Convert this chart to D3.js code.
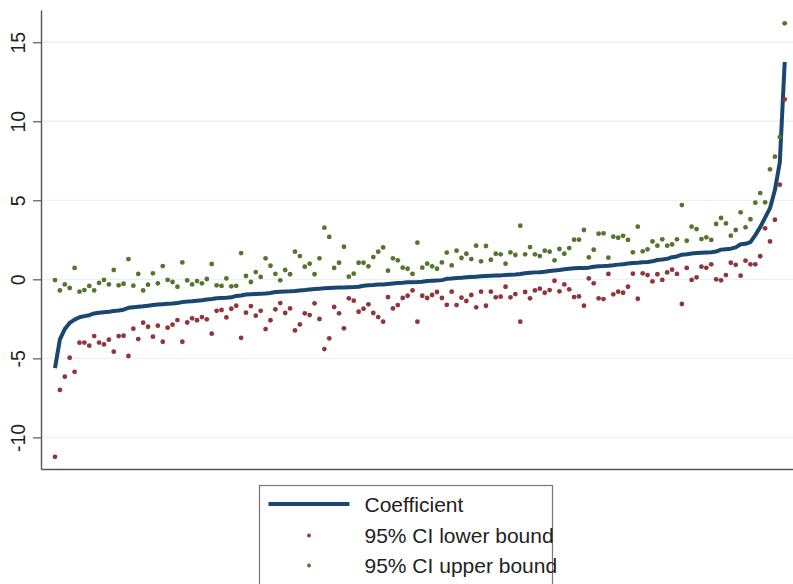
<!DOCTYPE html>
<html>
<head>
<meta charset="utf-8">
<script src="https://cdn.jsdelivr.net/npm/d3@7"></script>
<style>
  body { margin: 0; background: #ffffff; }
  svg { display: block; }
</style>
</head>
<body>
<script>
// Estimated coefficients, sorted from smallest to largest, with their 95% confidence bounds
const coefficient = [
  -5.62, -3.80, -3.15, -2.76, -2.55, -2.40, -2.33, -2.27, -2.16, -2.12,
  -2.08, -2.05, -2.00, -1.97, -1.92, -1.80, -1.76, -1.73, -1.71, -1.67,
  -1.63, -1.59, -1.57, -1.55, -1.53, -1.50, -1.44, -1.41, -1.39, -1.35,
  -1.32, -1.27, -1.24, -1.20, -1.18, -1.17, -1.14, -1.05, -1.02, -0.96,
  -0.94, -0.93, -0.92, -0.90, -0.86, -0.80, -0.78, -0.77, -0.76, -0.74,
  -0.70, -0.68, -0.64, -0.61, -0.59, -0.57, -0.55, -0.53, -0.52, -0.51,
  -0.50, -0.49, -0.47, -0.41, -0.38, -0.36, -0.33, -0.32, -0.29, -0.26,
  -0.23, -0.22, -0.19, -0.18, -0.17, -0.15, -0.11, -0.09, -0.07, -0.05,
   0.03,  0.05,  0.08,  0.10,  0.13,  0.15,  0.17,  0.19,  0.21,  0.23,
   0.24,  0.25,  0.27,  0.29,  0.31,  0.34,  0.38,  0.42,  0.44,  0.45,
   0.48,  0.53,  0.56,  0.59,  0.64,  0.67,  0.70,  0.71,  0.72,  0.74,
   0.80,  0.83,  0.84,  0.86,  0.89,  0.93,  0.96,  1.00,  1.03,  1.05,
   1.08,  1.10,  1.14,  1.22,  1.25,  1.30,  1.40,  1.45,  1.56,  1.59,
   1.64,  1.66,  1.68,  1.70,  1.72,  1.76,  1.88,  1.91,  1.94,  2.02,
   2.22,  2.25,  2.36,  2.80,  3.30,  3.90,  4.50,  5.65,  7.40, 13.75
];

const lowerBound = [
  -11.23, -7.00, -6.16, -4.96, -5.85, -4.01, -4.00, -4.20, -3.59, -4.00,
  -4.12, -3.82, -4.58, -3.59, -3.57, -4.85, -3.12, -3.78, -2.74, -3.00,
  -3.63, -2.93, -3.95, -3.06, -2.87, -2.58, -3.95, -2.73, -2.47, -2.59,
  -2.39, -2.53, -3.44, -1.99, -1.94, -2.41, -1.86, -1.67, -3.70, -2.11,
  -1.69, -2.30, -1.99, -3.15, -2.59, -1.90, -1.50, -2.13, -1.84, -3.23,
  -2.85, -2.15, -2.26, -1.52, -2.51, -4.41, -3.73, -1.75, -2.15, -3.10,
  -1.20, -1.35, -2.05, -1.86, -1.58, -2.13, -2.39, -2.68, -1.12, -1.84,
  -1.63, -1.18, -1.04, -0.70, -2.68, -1.04, -1.18, -0.99, -0.80, -1.18,
  -1.61, -0.78, -1.63, -1.16, -1.37, -0.99, -1.77, -0.78, -1.67, -0.78,
  -1.14, -1.10, -0.47, -1.14, -0.93, -2.68, -0.80, -1.20, -0.70, -0.59,
  -0.85, -0.68, -0.09, -0.76, -0.32, -0.63, -1.12, -1.08, -1.67,  0.06,
  -0.25, -1.20, -1.25,  0.34, -0.95, -0.78, -0.85, -0.47,  0.36, -1.23,
   0.38,  0.27, -0.13,  0.32, -0.04,  0.44,  0.61,  0.34, -1.56,  0.72,
  -0.04,  0.13,  0.80,  0.73,  0.95,  0.00, -0.06,  0.27,  1.05,  0.92,
   0.23,  1.18,  0.95,  0.95,  1.46,  3.23,  2.40,  3.77,  5.99, 11.39
];

const upperBound = [
  -0.05, -0.70, -0.32, -0.55,  0.72, -0.78, -0.68, -0.42, -0.70, -0.23,
  -0.04, -0.32,  0.59, -0.38, -0.28,  1.28, -0.40,  0.34, -0.70, -0.34,
   0.38, -0.25,  0.84, -0.04, -0.17, -0.47,  1.07, -0.07, -0.32, -0.11,
  -0.25,  0.02,  0.97, -0.38, -0.42,  0.06, -0.44, -0.41,  1.66,  0.21,
  -0.17,  0.46,  0.15,  1.33,  0.86,  0.34, -0.06,  0.59,  0.32,  1.75,
   1.47,  0.80,  0.99,  0.32,  1.33,  3.27,  2.68,  0.72,  1.05,  2.06,
   0.17,  0.36,  1.05,  1.05,  0.82,  1.41,  1.75,  2.02,  0.55,  1.33,
   1.20,  0.74,  0.67,  0.34,  2.32,  0.74,  0.99,  0.82,  0.67,  1.07,
   1.69,  0.88,  1.81,  1.35,  1.62,  1.28,  2.13,  1.14,  2.11,  1.24,
   1.62,  1.58,  0.99,  1.71,  1.54,  3.39,  1.58,  2.04,  1.58,  1.47,
   1.81,  1.75,  1.20,  1.92,  1.62,  1.98,  2.51,  2.51,  3.12,  1.39,
   1.87,  2.89,  2.91,  1.37,  2.70,  2.63,  2.75,  2.49,  1.71,  3.33,
   1.77,  1.90,  2.40,  2.13,  2.53,  2.13,  2.21,  2.53,  4.70,  2.44,
   3.33,  3.18,  2.55,  2.66,  2.49,  3.50,  3.88,  3.54,  2.76,  3.12,
   4.24,  3.29,  3.80,  4.85,  5.46,  4.87,  6.96,  7.76,  9.00, 16.20
];

const yTickValues = [-10, -5, 0, 5, 10, 15];
const yTickLabels = ["-10", "-5", "0", "5", "10", "15"];
const legendLabels = ["Coefficient", "95% CI lower bound", "95% CI upper bound"];

const colors = { coef: "#1a476f", lower: "#90353b", upper: "#55752f" };

const W = 793, H = 584;
const plotLeft = 41, plotRight = 793, plotTop = 10, plotBottom = 469;

const svg = d3.select("body").append("svg")
  .attr("width", W).attr("height", H)
  .attr("viewBox", `0 0 ${W} ${H}`);

const n = coefficient.length;
const x = d3.scaleLinear().domain([1, n]).range([55, 784.7]);
const y = d3.scaleLinear().domain([-12, 17.04]).range([plotBottom, plotTop]);

// horizontal grid
svg.append("g").selectAll("line")
  .data(yTickValues)
  .join("line")
  .attr("x1", plotLeft).attr("x2", plotRight)
  .attr("y1", d => y(d)).attr("y2", d => y(d))
  .attr("stroke", "#eaf2f3").attr("stroke-width", 1.3);

// y axis with rotated labels
const yAxis = svg.append("g")
  .attr("transform", `translate(${plotLeft},0)`)
  .call(d3.axisLeft(y)
    .tickValues(yTickValues)
    .tickFormat((d, i) => yTickLabels[i])
    .tickSize(8)
    .tickSizeOuter(0));
yAxis.select(".domain").attr("stroke", "#555").attr("stroke-width", 1.4);
yAxis.selectAll(".tick line").attr("stroke", "#555").attr("stroke-width", 1.2);
yAxis.selectAll(".tick text")
  .attr("x", null).attr("dy", null)
  .attr("transform", "translate(-16,0) rotate(-90)")
  .attr("text-anchor", "middle")
  .attr("fill", "#222")
  .style("font-family", "'Liberation Sans', Arial, sans-serif")
  .style("font-size", "19.5px");

// x axis (no ticks)
const xAxisScale = d3.scaleLinear().domain([0, 1]).range([plotLeft, plotRight]);
const xAxis = svg.append("g")
  .attr("transform", `translate(0,${plotBottom})`)
  .call(d3.axisBottom(xAxisScale).tickValues([]).tickSizeOuter(0));
xAxis.select(".domain").attr("stroke", "#555").attr("stroke-width", 1.4);

// coefficient line
const line = d3.line()
  .x((d, i) => x(i + 1))
  .y(d => y(d));
svg.append("path")
  .datum(coefficient)
  .attr("d", line)
  .attr("fill", "none")
  .attr("stroke", colors.coef)
  .attr("stroke-width", 4)
  .attr("stroke-linejoin", "round");

// confidence bounds
svg.append("g").selectAll("circle")
  .data(lowerBound)
  .join("circle")
  .attr("cx", (d, i) => x(i + 1))
  .attr("cy", d => y(d))
  .attr("r", 2.4)
  .attr("fill", colors.lower);

svg.append("g").selectAll("circle")
  .data(upperBound)
  .join("circle")
  .attr("cx", (d, i) => x(i + 1))
  .attr("cy", d => y(d))
  .attr("r", 2.4)
  .attr("fill", colors.upper);

// legend
const legend = svg.append("g").attr("transform", "translate(259.5,485.5)");
legend.append("rect")
  .attr("width", 293).attr("height", 130)
  .attr("fill", "#fff").attr("stroke", "#777").attr("stroke-width", 1.2);

const rowY = [18.5, 50, 80];
legend.append("line")
  .attr("x1", 9).attr("x2", 90)
  .attr("y1", rowY[0]).attr("y2", rowY[0])
  .attr("stroke", colors.coef).attr("stroke-width", 4);
legend.append("circle").attr("cx", 49.5).attr("cy", rowY[1]).attr("r", 1.9).attr("fill", colors.lower);
legend.append("circle").attr("cx", 49.5).attr("cy", rowY[2]).attr("r", 1.9).attr("fill", colors.upper);

legend.selectAll("text")
  .data(legendLabels)
  .join("text")
  .attr("x", 105)
  .attr("y", (d, i) => rowY[i] + 7.5)
  .attr("fill", "#222")
  .style("font-family", "'Liberation Sans', Arial, sans-serif")
  .style("font-size", "21px")
  .text(d => d);
</script>
</body>
</html>
